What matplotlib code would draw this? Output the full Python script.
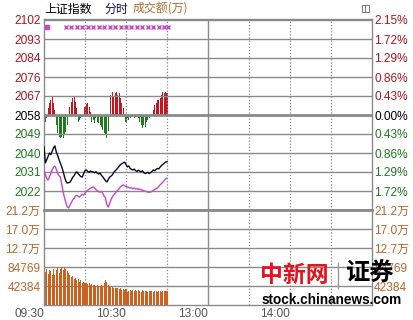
import numpy as np
import matplotlib.pyplot as plt
from matplotlib.patches import Rectangle
from matplotlib.lines import Line2D

plt.rcParams['font.family'] = ['Liberation Sans', 'Noto Sans CJK SC', 'DejaVu Sans']

# ---- data ----
base = 2058.3
step = 8.85
price_labels = ['2022', '2031', '2040', '2049', '2058', '2067', '2076', '2084', '2093', '2102']
pct_labels = ['1.72%', '1.29%', '0.86%', '0.43%', '0.00%', '0.43%', '0.86%', '1.29%', '1.72%', '2.15%']
vol_labels = ['42384', '84769', '12.7万', '17.0万', '21.2万']
vol_levels = [42384, 84769, 127154, 169538, 211923]
time_ticks = [0, 60, 120, 180]
time_labels = ['09:30', '10:30', '13:00', '14:00']

index_line = [
    2043.5, 2036.0, 2037.5, 2039.0, 2040.6, 2039.8, 2041.5, 2043.0, 2043.9, 2041.0,
    2039.5, 2037.5, 2035.8, 2034.1, 2032.0, 2029.5, 2027.5, 2026.6, 2026.8, 2027.0,
    2028.0, 2029.3, 2030.0, 2031.2, 2031.8, 2031.0, 2030.2, 2029.6, 2029.4, 2031.0,
    2032.4, 2032.7, 2032.0, 2031.6, 2032.2, 2031.8, 2031.8, 2031.4, 2031.9, 2031.2,
    2030.8, 2031.3, 2030.2, 2029.5, 2028.6, 2027.7, 2027.1, 2028.2, 2029.3, 2029.8,
    2030.4, 2031.5, 2032.2, 2032.9, 2033.6, 2034.5, 2035.2, 2035.6, 2036.0, 2036.4,
    2035.2, 2034.1, 2034.6, 2033.5, 2033.0, 2032.7, 2033.1, 2032.4, 2032.0, 2032.6,
    2032.2, 2031.8, 2032.3, 2031.5, 2031.0, 2031.3, 2031.6, 2031.0, 2031.5, 2032.0,
    2032.7, 2032.3, 2033.0, 2033.4, 2033.2, 2034.1, 2034.8, 2035.3, 2035.9, 2036.4,
    2036.6]

lead_line = [
    2032.7, 2030.5, 2028.8, 2028.0, 2029.5, 2031.0, 2032.8, 2034.0, 2034.5, 2033.0,
    2031.2, 2030.0, 2029.4, 2026.0, 2022.4, 2019.8, 2017.5, 2015.5, 2015.0, 2016.2,
    2017.6, 2018.7, 2019.5, 2020.5, 2020.9, 2020.4, 2020.1, 2020.8, 2021.3, 2021.0,
    2022.0, 2022.6, 2023.2, 2023.8, 2024.2, 2024.6, 2024.8, 2024.3, 2023.6, 2023.0,
    2022.6, 2022.4, 2022.6, 2021.8, 2020.5, 2019.6, 2016.5, 2015.4, 2017.0, 2018.8,
    2020.1, 2021.0, 2021.8, 2022.6, 2023.3, 2024.0, 2024.8, 2025.3, 2025.7, 2025.4,
    2025.0, 2024.8, 2024.5, 2024.3, 2024.4, 2024.0, 2024.2, 2023.9, 2024.0, 2023.7,
    2023.8, 2023.5, 2023.3, 2023.0, 2022.8, 2022.6, 2022.4, 2022.3, 2022.4, 2022.8,
    2023.2, 2023.6, 2024.0, 2024.3, 2025.0, 2025.8, 2026.4, 2027.0, 2027.8, 2028.5,
    2028.9]

strength = [
    -28, -7, -3, 7, 12, 15, 18, 12, 5, -10,
    -18, -22, -23, -22, -23, -20, -17, -10, 0, 8,
    13, 17, 18, 13, 7, -7, -5, -3, 0, 0,
    8, 11, 12, 8, 3, -7, -5, -8, -3, -7,
    -8, -10, -12, -15, -18, -20, -23, -16, 0, 20,
    23, 18, 22, 23, 20, 22, 17, 12, 7, 0,
    -7, -3, -5, -3, -2, -1, -3, -2, -1, -3,
    -7, -10, -13, -10, -12, -7, -5, -3, 0, 0,
    5, 10, 12, 15, 15, 17, 20, 23, 22, 23,
    22]

volume = [
    196000, 74000, 80000, 70000, 79000, 76000, 68000, 80000, 66000, 77000,
    83000, 72000, 80000, 84000, 77000, 85000, 80000, 76000, 72000, 68000,
    63000, 65000, 58000, 61000, 55000, 57000, 52000, 55000, 50000, 52000,
    48000, 50000, 46000, 48000, 45000, 46000, 44000, 45000, 42000, 44000,
    43000, 42000, 44000, 43000, 48000, 56000, 52000, 44000, 42000, 40000,
    41000, 38000, 39000, 37000, 38000, 35000, 37000, 34000, 36000, 33000,
    35000, 30000, 32000, 33000, 31000, 33000, 32000, 34000, 31000, 33000,
    32000, 30000, 33000, 32000, 31000, 32000, 30000, 32000, 31000, 32000,
    30000, 31000, 32000, 30000, 31000, 31000, 30000, 32000, 31000, 32000,
    32000]

signal_minutes = [16, 20, 24, 28, 32, 36, 40, 44, 48, 52, 56, 60, 64, 68, 72, 76, 80, 84, 88, 91]
first_signal = [2]

minutes = np.arange(len(index_line))
red = '#c8141e'
green = '#207a20'
orange = '#c0642a'
grid_c = '#8a8a8a'

W, H = 414, 320
fig = plt.figure(figsize=(W / 100, H / 100), dpi=100)
fig.patch.set_facecolor('white')
L, R = 44, 372
ax_p = fig.add_axes([L / W, 1 - 210 / H, (R - L) / W, 191 / H])
ax_v = fig.add_axes([L / W, 1 - 305 / H, (R - L) / W, 95 / H])

levels = [base + k * step for k in range(-5, 6)]
ymin, ymax = base - 5 * step, base + 96 / 19 * step

for ax in (ax_p, ax_v):
    ax.set_xlim(0, 240)
    for s in ax.spines.values():
        s.set_color(grid_c)
        s.set_linewidth(1)
    for t in (30, 60, 90, 150, 180, 210):
        ax.axvline(t, color=grid_c, lw=0.9, ls=(0, (1, 1.5)), zorder=1)
    ax.axvline(120, color=grid_c, lw=1, zorder=1)
    ax.tick_params(length=0)

# price panel
ax_p.set_ylim(ymin, ymax)
for k, lv in zip(range(-5, 6), levels):
    lw = 2 if k in (0, -5) else 1
    ax_p.axhline(lv, color=grid_c, lw=lw, zorder=1)
ax_p.spines['bottom'].set_linewidth(2)
ax_p.set_xticks([])
ax_p.set_yticks(levels[1:])
ax_p.set_yticklabels(price_labels)
ax_p.tick_params(axis='y', pad=2.5, labelsize=8.6)
for i, lab in enumerate(ax_p.get_yticklabels()):
    lab.set_color(green if i < 4 else ('black' if i == 4 else '#b4141e'))

ax_r = ax_p.twinx()
ax_r.set_ylim(ymin, ymax)
ax_r.set_yticks(levels[1:])
ax_r.set_yticklabels(pct_labels)
ax_r.tick_params(length=0, pad=1.5, labelsize=8.6)
for i, lab in enumerate(ax_r.get_yticklabels()):
    lab.set_color(green if i < 4 else ('black' if i == 4 else '#b4141e'))
for s in ax_r.spines.values():
    s.set_visible(False)

# buy/sell strength bars around the 2058 baseline
ax_s = ax_p.twinx()
ax_s.set_ylim(-95, 96)
ax_s.set_yticks([])
for s in ax_s.spines.values():
    s.set_visible(False)
st = np.array(strength)
ax_s.bar(minutes, np.where(st > 0, st, 0), width=0.75, color=red, lw=0, zorder=2)
ax_s.bar(minutes, np.where(st < 0, st, 0), width=0.75, color=green, lw=0, zorder=2)

ax_p.set_zorder(ax_s.get_zorder() + 1)
ax_p.patch.set_visible(False)
ax_p.plot(minutes, index_line, color='#0a0a28', lw=1, zorder=3)
ax_p.plot(minutes, lead_line, color='#cc44cc', lw=1, zorder=3)
sig_y = base + 88 / 19 * step
ax_p.plot(signal_minutes, [sig_y] * len(signal_minutes), ls='none', marker='x',
          ms=3.2, mew=1, color='#cc44cc', zorder=3)
ax_p.plot(first_signal, [sig_y], ls='none', marker='s', ms=3.5, color='#cc44cc', zorder=3)

# volume panel
ax_v.set_ylim(0, vol_levels[-1])
for lv in vol_levels[:-1]:
    ax_v.axhline(lv, color=grid_c, lw=1, zorder=1)
ax_v.bar(minutes, volume, width=0.75, color='#d0601e', lw=0, zorder=2)
ax_v.set_yticks(vol_levels)
ax_v.set_yticklabels(vol_labels, color=orange)
ax_v.tick_params(axis='y', pad=2.5, labelsize=8.6)
ax_v.set_xticks(time_ticks)
ax_v.set_xticklabels(time_labels, color='#555555', ha='right')
ax_v.tick_params(axis='x', pad=2.2, labelsize=8.6)
ax_vr = ax_v.twinx()
ax_vr.set_ylim(0, vol_levels[-1])
ax_vr.set_yticks(vol_levels)
ax_vr.set_yticklabels(vol_labels, color=orange)
ax_vr.tick_params(length=0, pad=1.5, labelsize=8.6)
for s in ax_vr.spines.values():
    s.set_visible(False)

# header
cjk = ['Noto Sans CJK SC', 'DejaVu Sans']
fig.text(44 / W, 1 - 9 / H, '上证指数', family=cjk, fontsize=8.6, color='black', va='center')
fig.text(105 / W, 1 - 9 / H, '分时', family=cjk, fontsize=8.6, color='#10105a', va='center')
fig.text(133 / W, 1 - 9 / H, '成交额(万)', family=cjk, fontsize=8.6, color='#b86a32', va='center')
fig.add_artist(Rectangle((362 / W, 1 - 12 / H), 7 / W, 7 / H, transform=fig.transFigure,
                         fill=False, ec='#808080', lw=0.8))
fig.add_artist(Line2D([365.5 / W, 365.5 / W], [1 - 12 / H, 1 - 5 / H], transform=fig.transFigure,
                      color='#808080', lw=0.8))

# watermark
fig.text(260 / W, 1 - 275 / H, '中新网', family=cjk, fontsize=16.5, color='#e3141c',
         va='center', style='italic', weight='bold')
fig.add_artist(Line2D([338 / W, 338 / W], [1 - 288 / H, 1 - 263 / H], transform=fig.transFigure,
                      color='#999999', lw=1))
fig.text(346 / W, 1 - 274 / H, '证券', family=cjk, fontsize=17.5, color='black',
         va='center', weight='black')
fig.text(262 / W, 1 - 300.5 / H, 'stock.chinanews.com', fontsize=9.8, color='black',
         va='center', weight='bold')

fig.savefig('out.png', dpi=100)
